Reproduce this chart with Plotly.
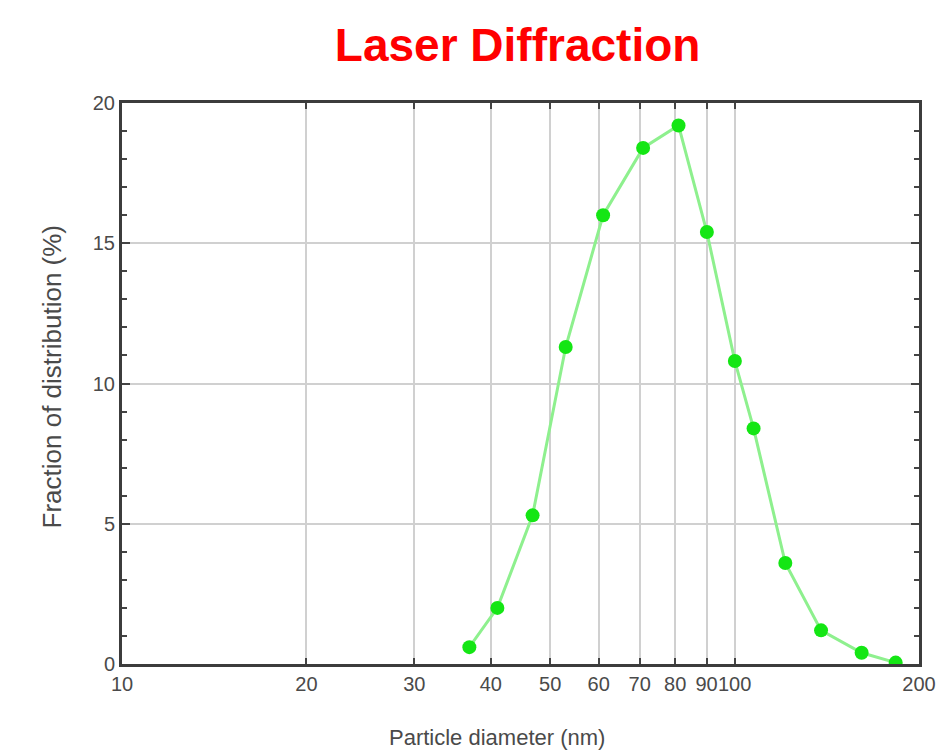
import plotly.graph_objects as go

diameter_nm = [36.9, 41.0, 46.8, 53.0, 61.0, 70.9, 81.0, 90.1, 100.1, 107.4, 121.0, 138.4, 161.2, 183.2]
fraction_pct = [0.6, 2.0, 5.3, 11.3, 16.0, 18.4, 19.2, 15.4, 10.8, 8.4, 3.6, 1.2, 0.4, 0.05]

x_tickvals = [10, 20, 30, 40, 50, 60, 70, 80, 90, 100, 200]
x_ticktext = ["10", "20", "30", "40", "50", "60", "70", "80", "90", "100", "200"]
y_tickvals = [0, 5, 10, 15, 20]

FONT = "Liberation Sans, Arial, sans-serif"
TXT = "#4a4a4a"

fig = go.Figure()
fig.add_trace(go.Scatter(
    x=diameter_nm, y=fraction_pct, mode="lines+markers",
    line=dict(color="#8ef08e", width=3),
    marker=dict(color="#14e614", size=14),
    showlegend=False,
))

fig.update_layout(
    width=948, height=750,
    margin=dict(l=122, r=24, t=103, b=86),
    paper_bgcolor="white", plot_bgcolor="white",
    font=dict(family=FONT, color=TXT, size=20),
    title=dict(text="<b>Laser Diffraction</b>", font=dict(family=FONT, size=46, color="#ff0000"),
               x=0.546, xanchor="center", y=1 - 45 / 750, yanchor="middle", yref="container"),
    annotations=[
        dict(text="Particle diameter (nm)", xref="paper", yref="paper",
             x=(499 - 122) / 802, y=-(737 - 664) / 561, xanchor="center", yanchor="middle",
             showarrow=False, font=dict(size=22, color=TXT)),
        dict(text="Fraction of distribution (%)", xref="paper", yref="paper",
             x=-(122 - 52) / 802, y=(664 - 377) / 561, xanchor="center", yanchor="middle",
             textangle=-90, showarrow=False, font=dict(size=26, color=TXT)),
    ],
)

fig.update_xaxes(
    type="log", range=[1, 2.30103],
    tickvals=x_tickvals, ticktext=x_ticktext, tickangle=0,
    ticks="inside", ticklen=6, tickwidth=2, tickcolor="#444",
    showgrid=True, gridcolor="#d0d0d0", gridwidth=2,
    showline=True, linecolor="#3c3c3c", linewidth=3, mirror="ticks",
    tickfont=dict(size=20, color=TXT),
    zeroline=False,
)
fig.update_yaxes(
    range=[0, 20],
    tickvals=y_tickvals,
    ticks="inside", ticklen=8, tickwidth=2, tickcolor="#444",
    minor=dict(dtick=1, ticks="inside", ticklen=5, tickwidth=2, tickcolor="#444", showgrid=False),
    showgrid=True, gridcolor="#d0d0d0", gridwidth=2,
    showline=True, linecolor="#3c3c3c", linewidth=3, mirror="ticks",
    tickfont=dict(size=20, color=TXT),
    zeroline=False,
)

fig.write_html("out.html")
